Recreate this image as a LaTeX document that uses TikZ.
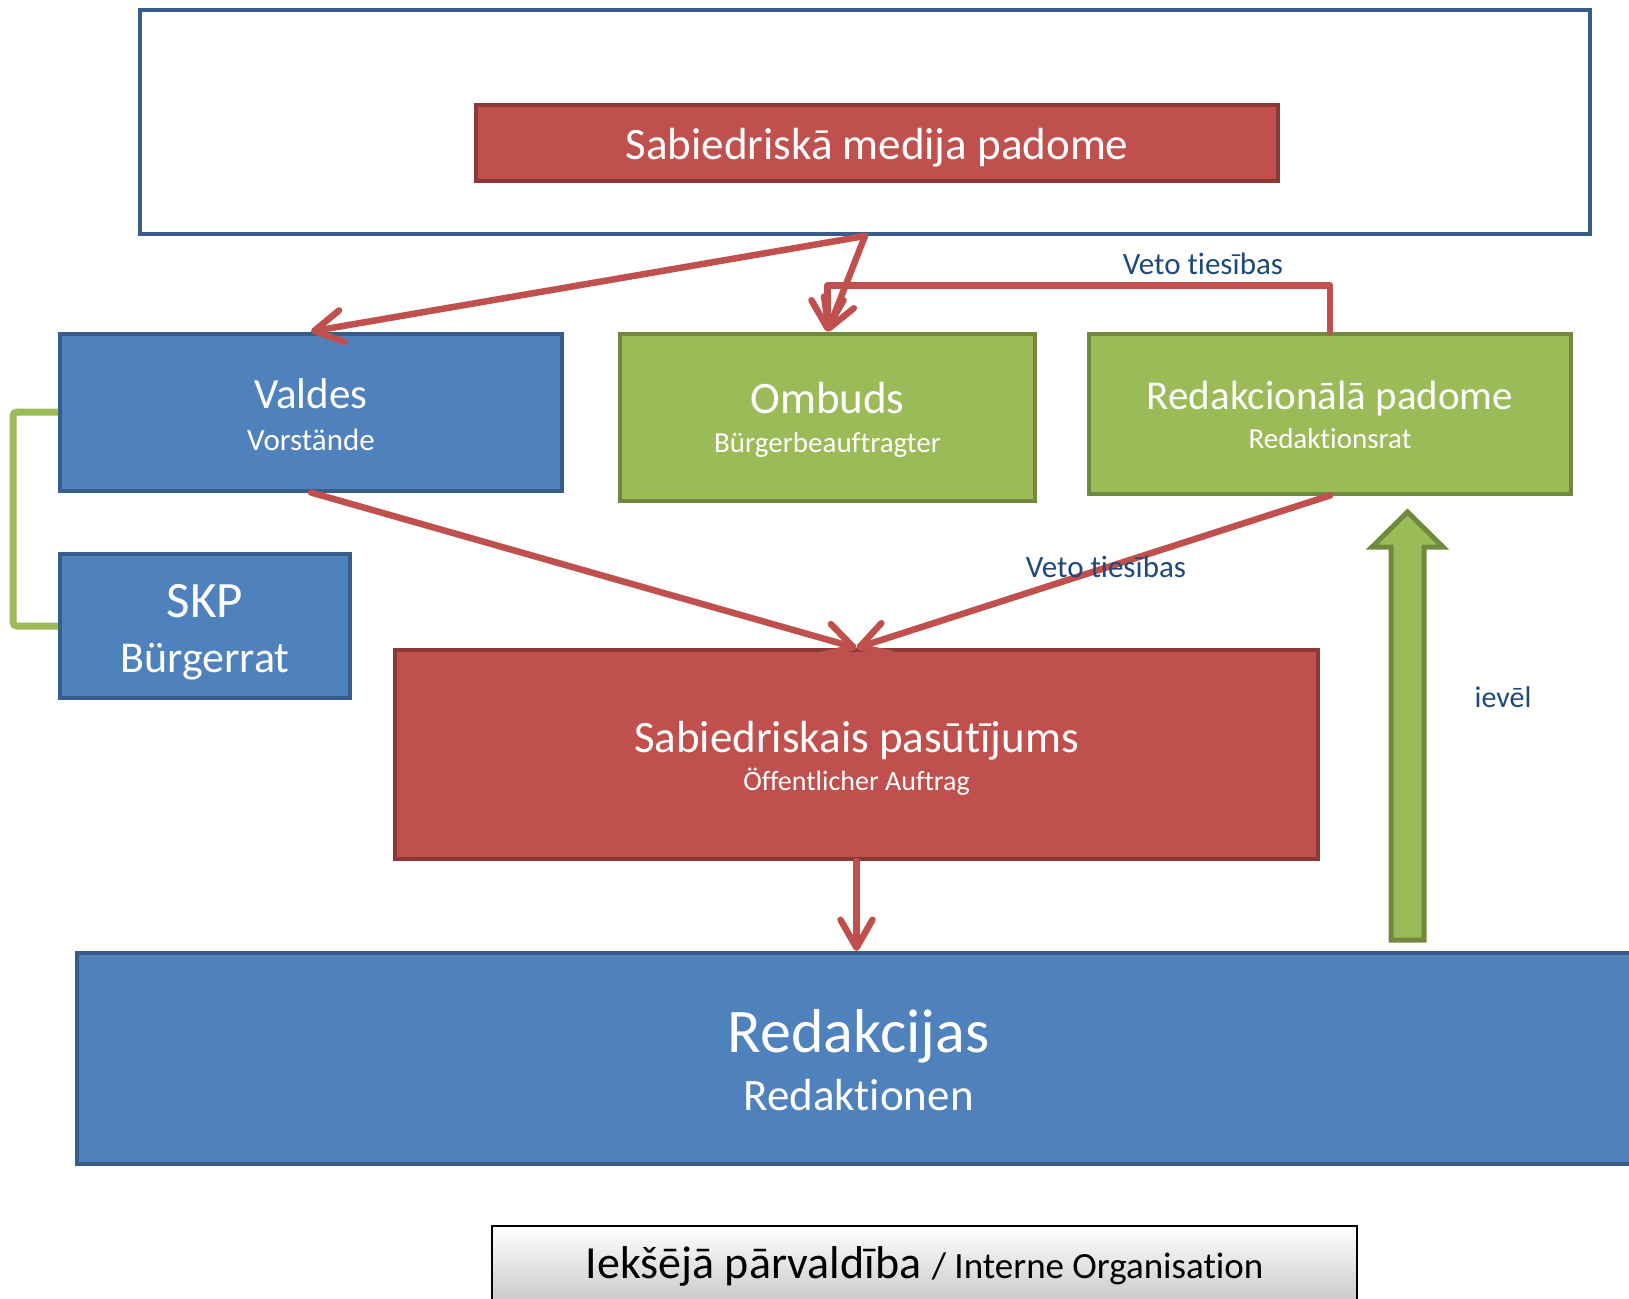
\documentclass[tikz,border=0pt]{standalone}
\usepackage{fontspec}
\setmainfont{Carlito}[Ligatures=NoCommon]
\usetikzlibrary{arrows.meta,positioning}
\definecolor{BoardRed}{HTML}{C0504D}
\definecolor{BoardRedEdge}{HTML}{8C3836}
\definecolor{UnitBlue}{HTML}{4F81BD}
\definecolor{UnitBlueEdge}{HTML}{385D8A}
\definecolor{PanelGreen}{HTML}{9BBB59}
\definecolor{PanelGreenEdge}{HTML}{71893F}
\definecolor{NoteBlue}{HTML}{1F497D}

\begin{document}
\begin{tikzpicture}[x=1pt,y=-1pt,
  orgbox/.style={line width=4pt,text=white,align=center,inner sep=0pt},
  unitbox/.style={orgbox,draw=UnitBlueEdge,fill=UnitBlue},
  boardbox/.style={orgbox,draw=BoardRedEdge,fill=BoardRed},
  panelbox/.style={orgbox,draw=PanelGreenEdge,fill=PanelGreen},
  dropline/.style={text height=#1,text depth=0pt},
  flowarrow/.style={draw=BoardRed,line width=6.5pt,line cap=round,line join=round,
    -{Straight Barb[length=28pt,width=32pt,round]}},
  notetext/.style={text=NoteBlue,font=\fontsize{31}{34}\selectfont,inner sep=0pt}]
  \fill[white] (0,0) rectangle (1629,1298);
  \useasboundingbox (0,0) rectangle (1629,1298);
  % media council frame
  \node[draw=UnitBlueEdge,fill=white,line width=4pt,minimum width=1450,minimum height=224] (mediaframe) at (865,122) {};
  \node[boardbox,dropline=32pt,minimum width=802,minimum height=76,font=\fontsize{45}{50}\selectfont] (council) at (877,143) {Sabiedriskā medija padome};
  % second row
  \node[unitbox,dropline=76pt,minimum width=502,minimum height=157,font=\fontsize{43}{42}\selectfont] (valdes) at (311,412) {Valdes\\{\fontsize{31}{34}\selectfont Vorstände}};
  \node[panelbox,dropline=70pt,minimum width=415,minimum height=167,font=\fontsize{45}{39}\selectfont] (ombuds) at (827.5,417) {Ombuds\\{\fontsize{29}{32}\selectfont Bürgerbeauftragter}};
  \node[panelbox,dropline=69pt,minimum width=482,minimum height=160,font=\fontsize{41}{39}\selectfont] (redrat) at (1330,413.5) {Redakcionālā padome\\{\fontsize{29}{32}\selectfont Redaktionsrat}};
  \node[unitbox,dropline=92pt,minimum width=290,minimum height=144,font=\fontsize{51}{55}\selectfont] (skp) at (205,626) {SKP\\{\fontsize{44}{48}\selectfont Bürgerrat}};
  % mandate and newsrooms
  \node[boardbox,dropline=71pt,minimum width=923,minimum height=209,font=\fontsize{45}{38}\selectfont] (pasutijums) at (856.5,754.5) {Sabiedriskais pasūtījums\\{\fontsize{28}{32}\selectfont Öffentlicher Auftrag}};
  \node[unitbox,dropline=103pt,minimum width=1563,minimum height=211,font=\fontsize{62}{58}\selectfont] (redakcijas) at (858.5,1058.5) {Redakcijas\\{\fontsize{45}{50}\selectfont Redaktionen}};
  \node[draw=black,line width=1.5pt,top color=white,bottom color=black!22,minimum width=865,minimum height=80,inner sep=0pt,font=\fontsize{46}{50}\selectfont] (intorg) at (924.5,1266) {Iekšējā pārvaldība {\fontsize{37}{40}\selectfont / Interne Organisation}};
  % connectors
  \draw[flowarrow] (mediaframe.south) -- (valdes.north);
  \draw[flowarrow] (mediaframe.south) -- (ombuds.north);
  \draw[flowarrow] (redrat.north) -- ++(0,-46) -| (ombuds.north);
  \node[notetext] (vetotop) at (1203,264) {Veto tiesības};
  \draw[flowarrow] (valdes.south) -- (pasutijums.north);
  \draw[flowarrow] (redrat.south) -- (pasutijums.north);
  \node[notetext] (vetomid) at (1106,567) {Veto tiesības};
  \draw[flowarrow] (pasutijums.south) -- (pasutijums.south |- redakcijas.north);
  \draw[PanelGreen,line width=7pt,rounded corners=4pt] (valdes.west) -- ++(-45,0) |- (skp.west);
  % election arrow
  \coordinate (electfoot) at (1407.5,940);
  \filldraw[fill=PanelGreen,draw=PanelGreenEdge,line width=5pt,line join=miter]
    (electfoot) ++(-16.5,0) -- ++(0,-393) -- ++(-19,0) -- (1407.5,512) -- (1443,547) -- ++(-19,0) -- ++(0,393) -- cycle;
  \node[notetext,font=\fontsize{30}{34}\selectfont] (ievel) at (1503,697) {ievēl};
\end{tikzpicture}
\end{document}
